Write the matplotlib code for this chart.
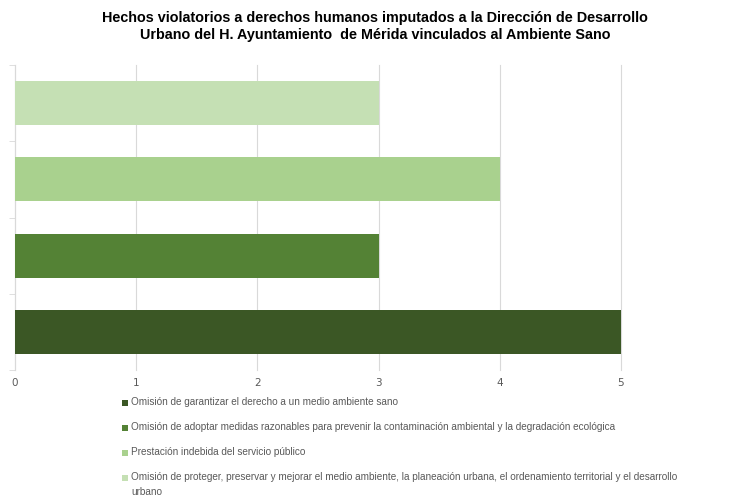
import matplotlib
matplotlib.use("Agg")
import matplotlib.pyplot as plt
from matplotlib.patches import Rectangle

# Hechos violatorios (bottom to top on the chart) and their counts
categories = [
    "Omisión de garantizar el derecho a un medio ambiente sano",
    "Omisión de adoptar medidas razonables para prevenir la contaminación ambiental y la degradación ecológica",
    "Prestación indebida del servicio público",
    "Omisión de proteger, preservar y mejorar el medio ambiente, la planeación urbana, el ordenamiento territorial y el desarrollo\nurbano",
]
values = [5, 3, 4, 3]
colors = ["#3B5725", "#548235", "#A9D18E", "#C5E0B4"]
xticks = [0, 1, 2, 3, 4, 5]

title = ("Hechos violatorios a derechos humanos imputados a la Dirección de Desarrollo\n"
         "Urbano del H. Ayuntamiento  de Mérida vinculados al Ambiente Sano")

W, H = 735, 497
fig = plt.figure(figsize=(W / 100, H / 100), dpi=100)
ax = fig.add_axes([15 / W, 1 - 370 / H, (621 - 15) / W, (370 - 65) / H])

ypos = list(range(len(values)))
ax.barh(ypos, values, height=0.58, color=colors, edgecolor="none", zorder=3)

ax.set_xlim(0, 5)
ax.set_ylim(-0.5, len(values) - 0.5)
ax.set_xticks(xticks)
ax.set_xticklabels([str(t) for t in xticks])
ax.tick_params(axis="x", length=0, pad=6, labelsize=7.5, labelcolor="#595959")
ax.grid(axis="x", color="#D9D9D9", linewidth=0.8, zorder=0)
for gl in ax.get_xgridlines():
    gl.set_clip_on(False)

ax.set_yticks([])
ax.set_yticks([i - 0.5 for i in range(len(values) + 1)], minor=True)
ax.tick_params(axis="y", which="minor", length=4, color="#D9D9D9", labelleft=False)

for side in ("top", "right", "bottom"):
    ax.spines[side].set_visible(False)
ax.spines["left"].set_color("#D9D9D9")
ax.spines["left"].set_linewidth(0.8)

fig.text(375 / W, 1 - 11 / H, title, ha="center", va="top", fontsize=10.4,
         fontweight="bold", family=["Liberation Sans", "DejaVu Sans"],
         linespacing=1.3)

# Legend below the plot, one entry per row
leg_font = ["Liberation Sans", "DejaVu Sans"]
row_y = [403, 428, 453, 478]
sq = 6
for label, color, y in zip(categories, colors, row_y):
    fig.add_artist(Rectangle((122 / W, 1 - (y + sq / 2) / H), sq / W, sq / H,
                             transform=fig.transFigure, facecolor=color,
                             edgecolor="none"))
    fig.text(131 / W, 1 - (y - 6) / H, label, ha="left", va="top",
             fontsize=7.2, color="#595959", family=leg_font, linespacing=1.6)

fig.savefig("out.png", dpi=100)
